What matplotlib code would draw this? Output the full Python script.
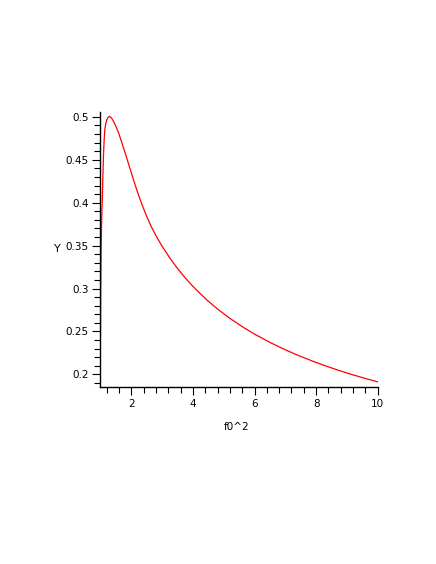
import matplotlib
matplotlib.use("Agg")
import matplotlib.pyplot as plt
from matplotlib.ticker import MultipleLocator, FixedLocator

x_vals = [1.0, 1.005, 1.01, 1.02, 1.035, 1.05, 1.06, 1.08, 1.10, 1.12, 1.14, 1.17,
          1.21, 1.25, 1.29, 1.35, 1.42, 1.50, 1.60, 1.70, 1.80, 1.90, 2.00, 2.10,
          2.20, 2.35, 2.50, 2.65, 2.80, 3.00, 3.25, 3.50, 3.75, 4.00, 4.45, 4.78,
          5.20, 5.65, 6.00, 6.51, 7.00, 7.38, 8.00, 8.24, 8.70, 9.11, 9.50, 10.0]
y_vals = [0.245, 0.29, 0.31, 0.345, 0.375, 0.395, 0.405, 0.435, 0.458, 0.474, 0.485, 0.492,
          0.497, 0.4995, 0.5005, 0.499, 0.495, 0.489, 0.480, 0.469, 0.458, 0.4465, 0.435, 0.4235,
          0.4125, 0.3975, 0.3840, 0.3720, 0.3616, 0.3493, 0.3356, 0.3234, 0.3124, 0.3025,
          0.2868, 0.2767, 0.2653, 0.2545, 0.2470, 0.2371, 0.2287, 0.2227, 0.2139, 0.2108,
          0.2051, 0.2004, 0.1963, 0.1913]

x_major = [2, 4, 6, 8, 10]
x_minor = [1.2, 1.6, 2.4, 2.8, 3.2, 3.6, 4.4, 4.8, 5.2, 5.6,
           6.4, 6.8, 7.2, 7.6, 8.4, 8.8, 9.2, 9.6]
y_major = [0.2, 0.25, 0.3, 0.35, 0.4, 0.45, 0.5]
y_labels = ["0.2", "0.25", "0.3", "0.35", "0.4", "0.45", "0.5"]

plt.rcParams['font.family'] = ['DejaVu Sans']

fig = plt.figure(figsize=(4.36, 5.64), dpi=100)
ax = fig.add_axes([0.2305, 0.3133, 0.8663 - 0.2305, 0.802 - 0.3133])

ax.plot(x_vals, y_vals, color='#ff0000', linewidth=0.9)

ax.set_xlim(1.0, 10.0)
ax.set_ylim(0.185, 0.506)

for s in ['top', 'right']:
    ax.spines[s].set_visible(False)
for s in ['left', 'bottom']:
    ax.spines[s].set_linewidth(1.0)

ax.xaxis.set_major_locator(FixedLocator(x_major))
ax.xaxis.set_minor_locator(FixedLocator(x_minor))
ax.set_xticklabels([str(v) for v in x_major])
ax.yaxis.set_major_locator(FixedLocator(y_major))
ax.set_yticklabels(y_labels)
ax.yaxis.set_minor_locator(MultipleLocator(0.01))

ax.tick_params(axis='both', which='major', direction='out', length=5.5, width=0.8,
               labelsize=7.5, colors='black')
ax.tick_params(axis='both', which='minor', direction='out', length=4.0, width=0.8)
ax.tick_params(axis='x', which='major', pad=3.0)
ax.tick_params(axis='y', which='major', pad=3.0)

ax.set_xlabel("f0^2", fontsize=7.5)
ax.xaxis.set_label_coords(0.491, -0.125)
ax.set_ylabel("Y", fontsize=8, rotation=0, va='center', ha='center')
ax.yaxis.set_label_coords(-0.157, 0.5)

fig.savefig("out.png", dpi=100)
